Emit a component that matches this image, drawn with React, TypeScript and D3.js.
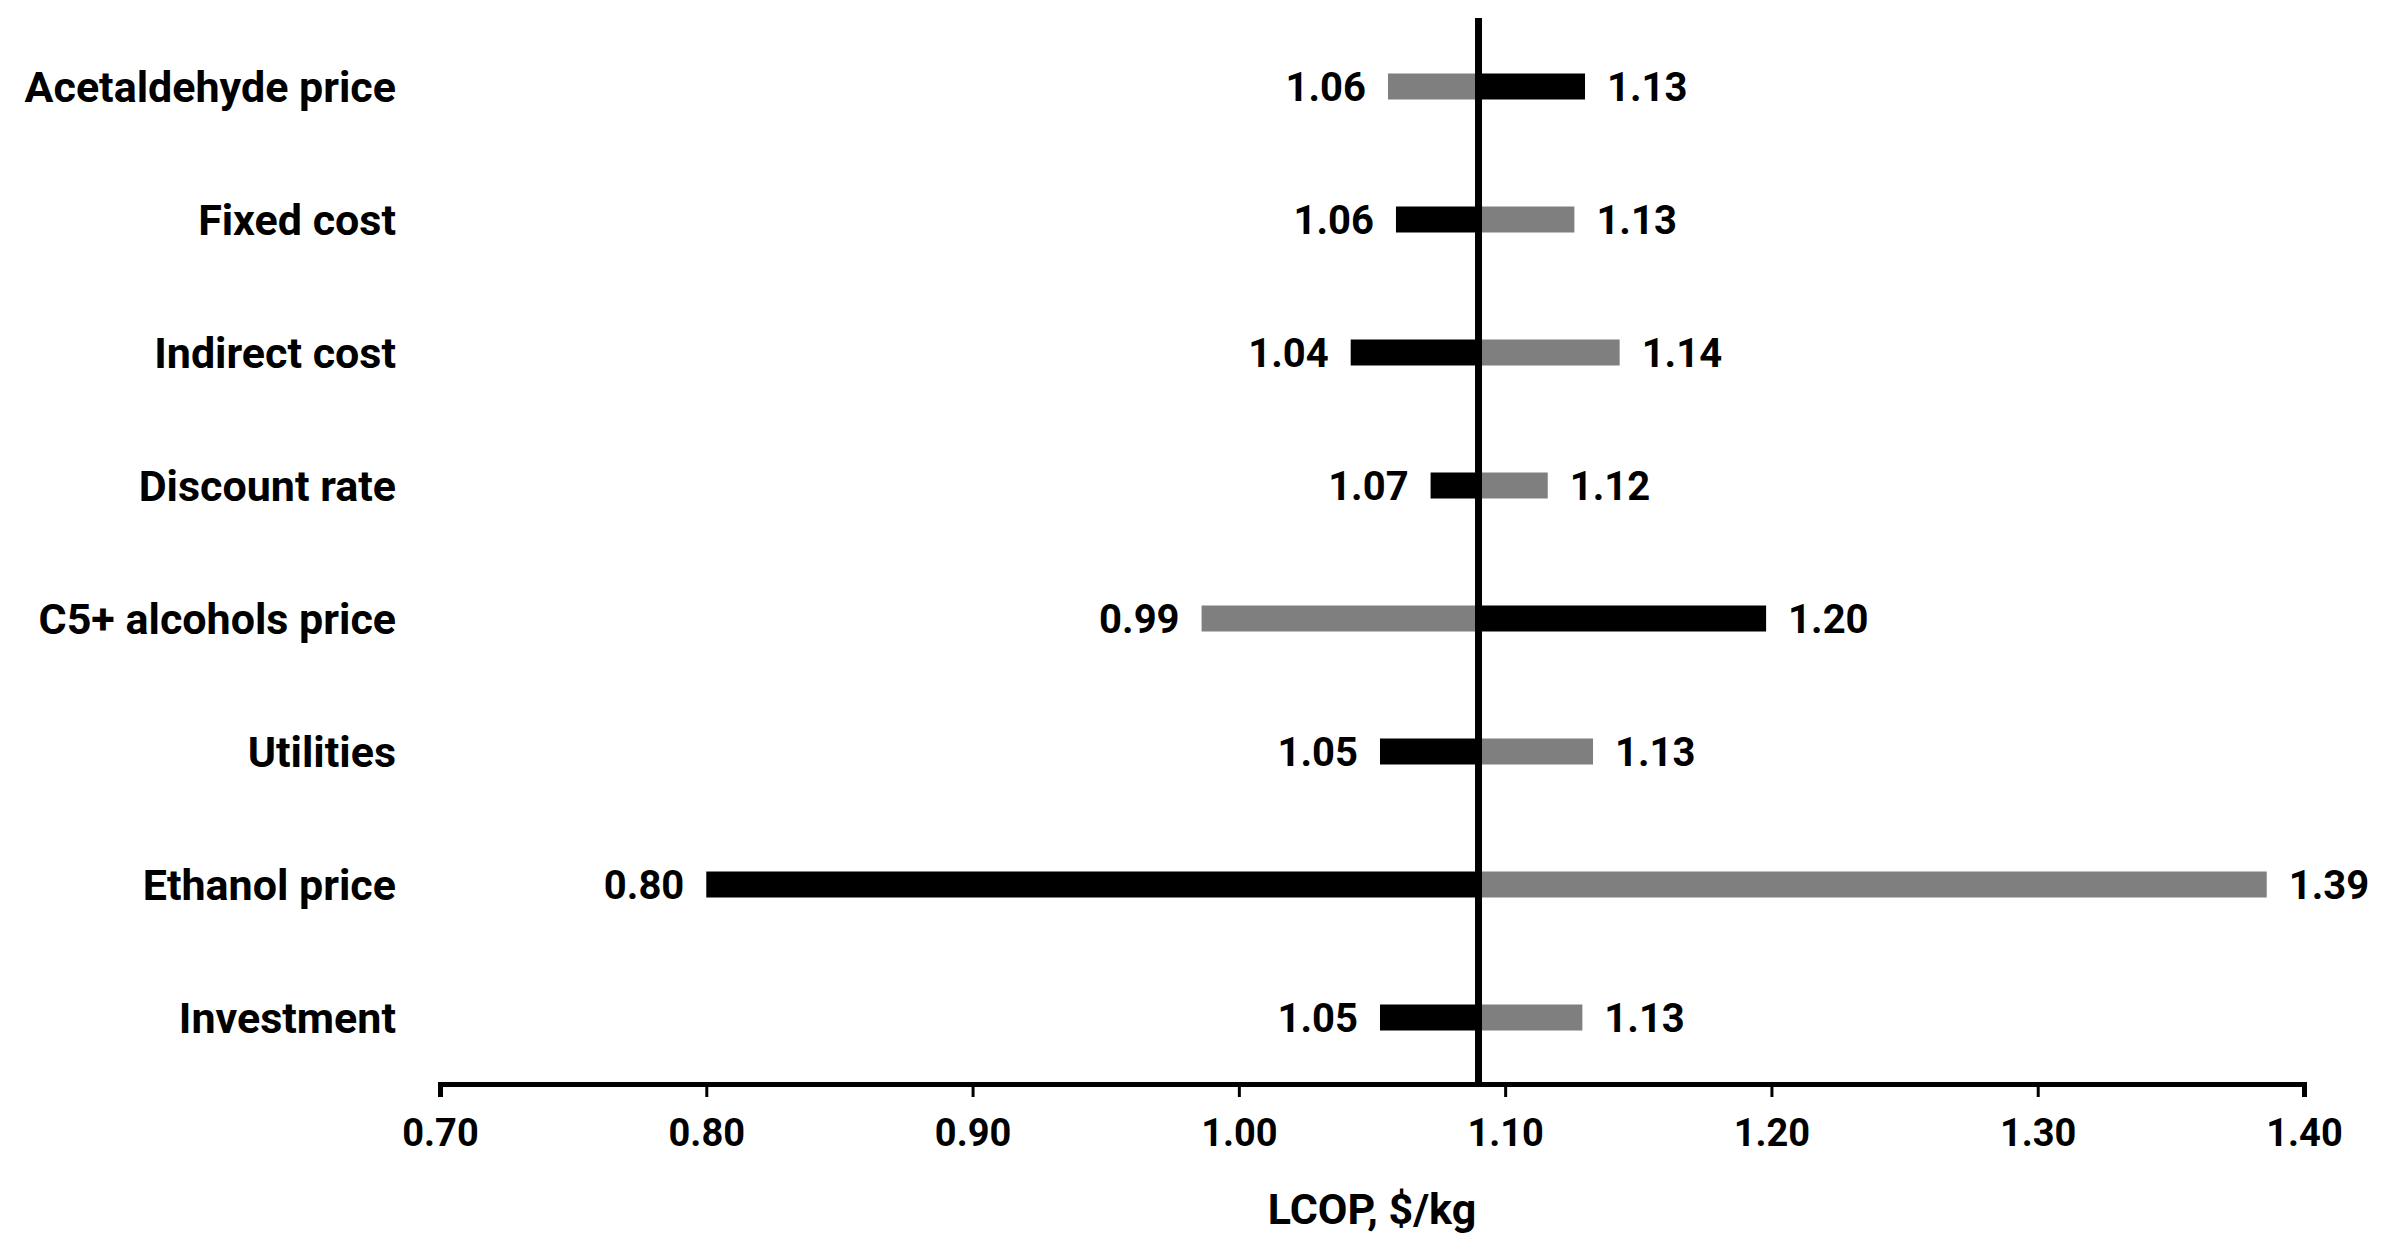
import { useEffect, useRef } from "react";
import * as d3 from "d3";

// sensitivity (tornado) chart, LCOP in $/kg
const categories = [
  "Acetaldehyde price",
  "Fixed cost",
  "Indirect cost",
  "Discount rate",
  "C5+ alcohols price",
  "Utilities",
  "Ethanol price",
  "Investment",
];
// black bars
const blackValues = [1.13, 1.059, 1.042, 1.072, 1.198, 1.053, 0.8, 1.053];
// gray bars
const grayValues = [1.056, 1.126, 1.143, 1.116, 0.986, 1.133, 1.386, 1.129];
const baseValue = 1.09;
const xTicks = [0.7, 0.8, 0.9, 1.0, 1.1, 1.2, 1.3, 1.4];
const xTitle = "LCOP, $/kg";

const W = 2385;
const H = 1254;
const FONT = "Roboto, 'Noto Sans', sans-serif";

const App = () => {
  const ref = useRef<SVGSVGElement>(null);

  useEffect(() => {
    document.body.style.margin = "0";
    const svg = d3.select(ref.current);
    svg.selectAll("*").remove();

    const x = d3.scaleLinear().domain([0.7, 1.4]).range([440, 2304]);
    const y = d3.scaleBand().domain(categories).range([20, 1084]);
    const barH = 26;
    const axisY = 1084;

    const rows = categories.map((c, i) => ({
      cat: c,
      black: blackValues[i],
      gray: grayValues[i],
    }));

    const g = svg.append("g");

    const drawBars = (key: "black" | "gray", fill: string) => {
      g.selectAll(".bar-" + key)
        .data(rows)
        .enter()
        .append("rect")
        .attr("x", (d) => Math.min(x(d[key]), x(baseValue)))
        .attr("width", (d) => Math.abs(x(d[key]) - x(baseValue)))
        .attr("y", (d) => (y(d.cat) as number) + (y.bandwidth() - barH) / 2)
        .attr("height", barH)
        .attr("fill", fill);

      g.selectAll(".lbl-" + key)
        .data(rows)
        .enter()
        .append("text")
        .attr("x", (d) => (d[key] < baseValue ? x(d[key]) - 22 : x(d[key]) + 22))
        .attr("y", (d) => (y(d.cat) as number) + y.bandwidth() / 2)
        .attr("dy", "0.37em")
        .attr("text-anchor", (d) => (d[key] < baseValue ? "end" : "start"))
        .style("font-family", FONT)
        .style("font-weight", 700)
        .style("font-size", "40px")
        .style("fill", "#000")
        .text((d) => d[key].toFixed(2));
    };
    drawBars("gray", "#7f7f7f");
    drawBars("black", "#000");

    // category labels
    g.selectAll(".cat")
      .data(categories)
      .enter()
      .append("text")
      .attr("x", 396)
      .attr("y", (d) => (y(d) as number) + y.bandwidth() / 2)
      .attr("dy", "0.37em")
      .attr("text-anchor", "end")
      .style("font-family", FONT)
      .style("font-weight", 700)
      .style("font-size", "43px")
      .text((d) => d);

    // x axis
    const ax = svg
      .append("g")
      .attr("transform", `translate(0,${axisY})`)
      .call(
        d3
          .axisBottom(x)
          .tickValues(xTicks)
          .tickSize(13)
          .tickSizeOuter(13)
          .tickPadding(22)
          .tickFormat((d) => (d as number).toFixed(2))
      );
    ax.select(".domain").attr("stroke", "#000").attr("stroke-width", 5);
    ax.selectAll(".tick line").attr("stroke", "#000").attr("stroke-width", 3);
    ax.selectAll(".tick text")
      .style("font-family", FONT)
      .style("font-weight", 700)
      .style("font-size", "38px")
      .style("fill", "#000");

    svg
      .append("text")
      .attr("x", (x(0.7) + x(1.4)) / 2)
      .attr("y", 1224)
      .attr("text-anchor", "middle")
      .style("font-family", FONT)
      .style("font-weight", 700)
      .style("font-size", "43px")
      .text(xTitle);

    // base line
    svg
      .append("line")
      .attr("x1", x(baseValue))
      .attr("x2", x(baseValue))
      .attr("y1", 18)
      .attr("y2", axisY)
      .attr("stroke", "#000")
      .attr("stroke-width", 7);
  }, []);

  return <svg ref={ref} width={W} height={H} style={{ display: "block", background: "#fff" }} />;
};

export default App;
